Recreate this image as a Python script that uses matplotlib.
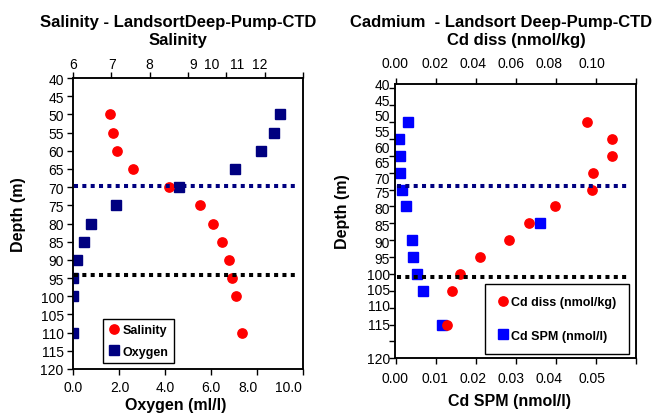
import matplotlib
matplotlib.use('Agg')
import matplotlib.pyplot as plt
from matplotlib.lines import Line2D

# ---------------- data ----------------
depth = [50, 55, 60, 65, 70, 75, 80, 85, 90, 95, 100, 110]
salinity = [6.97, 7.06, 7.16, 7.58, 8.51, 9.32, 9.66, 9.88, 10.06, 10.14, 10.24, 10.40]
oxygen = [8.97, 8.75, 8.15, 7.02, 4.59, 1.89, 0.81, 0.50, 0.17, 0.0, 0.03, 0.03]
cd_diss = [0.0955, 0.108, 0.108, 0.0985, 0.098, 0.0798, 0.0665, 0.0565, 0.0419, 0.0319, 0.0278, 0.0254]
cd_spm = [0.0031, 0.0008, 0.0010, 0.0011, 0.0015, 0.0026, 0.0360, 0.0039, 0.0043, 0.0052, 0.0068, 0.0114]

left_lines = [69.75, 94.1]    # navy, black
right_lines = [69.0, 95.9]

depth_ticks = list(range(40, 121, 5))
sal_ticks = [6, 7, 8, 9, 10, 11, 12]
sal_labels = ['6', '7', '8', '9', '10', '11', '12']
oxy_ticks = [0, 2, 4, 6, 8, 10]
oxy_labels = ['0.0', '2.0', '4.0', '6.0', '8.0', '10.0']
cdd_ticks = [0, 0.02, 0.04, 0.06, 0.08, 0.10, 0.12]
cdd_labels = ['0.00', '0.02', '0.04', '0.06', '0.08', '0.10']
cds_ticks = [0, 0.01, 0.02, 0.03, 0.04, 0.05, 0.06]
cds_labels = ['0.00', '0.01', '0.02', '0.03', '0.04', '0.05']
depth_labels = [str(v) for v in depth_ticks]

# label placement (layout, mimics the compressed label layout of the original)
sal_label_pos = [6.02, 7.02, 8.0, 9.13, 9.62, 10.27, 10.87]
oxy_label_pos = [0.0, 2.05, 4.02, 6.0, 7.6, 9.34]
cdd_label_pos = [-0.0005, 0.0194, 0.0384, 0.0578, 0.0768, 0.0982]
cds_label_pos = [-0.00025, 0.0097, 0.0192, 0.0289, 0.0384, 0.0491]
rdepth_label_pos = [38.7, 43.4, 47.8, 52.4, 57.3, 61.7, 66.3, 70.7, 75.4, 80.2,
                    85.3, 90.2, 95.0, 99.4, 104.1, 109.6, 119.8]

# ---------------- fonts ----------------
tick_family, tick_size = 'Liberation Sans', 10
bold_family = 'Liberation Sans'
plt.rcParams['font.family'] = [tick_family, 'DejaVu Sans']

RED = '#FF0000'
NAVY = '#000080'
BLUE = '#0000FF'

W, H = 655, 414
fig = plt.figure(figsize=(W / 100, H / 100), dpi=100)

def fx(px):
    return px / W

def fy(py):
    return 1 - py / H

axL = fig.add_axes([fx(72.7), fy(370), (303.3 - 72.7) / W, (370 - 79) / H])
axLt = axL.twiny()
axR = fig.add_axes([fx(395), fy(359.3), (635.7 - 395) / W, (359.3 - 85) / H])
axRt = axR.twiny()

for ax in (axL, axLt, axR, axRt):
    for s in ax.spines.values():
        s.set_linewidth(1.1)
        s.set_color('black')
    ax.xaxis.remove_overlapping_locs = False
    ax.yaxis.remove_overlapping_locs = False

def setup_x(ax, lim, ticks, labels, labelpos, pad):
    ax.set_xlim(*lim)
    ax.set_xticks(ticks)
    ax.set_xticklabels([''] * len(ticks))
    ax.set_xticks(labelpos, labels, minor=True)
    ax.tick_params(axis='x', which='major', direction='out', length=4, width=1.0, color='black')
    ax.tick_params(axis='x', which='minor', length=0, pad=pad, labelsize=tick_size, labelcolor='black')

# left plot
axL.set_ylim(120, 40)
axL.set_yticks(depth_ticks)
axL.set_yticklabels(depth_labels)
axL.tick_params(axis='y', which='major', direction='out', length=4, width=1.0, pad=2.5,
                labelsize=tick_size)
setup_x(axL, (0, 10), oxy_ticks, oxy_labels, oxy_label_pos, 8)
setup_x(axLt, (6, 12), sal_ticks, sal_labels, sal_label_pos, 5)

axL.plot(oxygen, depth, linestyle='none', marker='s', markersize=7, color=NAVY, zorder=3)
axLt.plot(salinity, depth, linestyle='none', marker='o', markersize=6.7, color=RED, zorder=2)
axLt.axhline(left_lines[0], xmin=0.006, xmax=0.97, color=NAVY, lw=2.9,
             dashes=(1, 1.07), dash_capstyle='butt', zorder=4)
axLt.axhline(left_lines[1], xmin=0.006, xmax=0.97, color='black', lw=2.9,
             dashes=(1, 1.07), dash_capstyle='butt', zorder=4)

# right plot
axR.set_ylim(120, 40)
axR.set_yticks(depth_ticks)
axR.set_yticklabels([''] * len(depth_ticks))
axR.set_yticks(rdepth_label_pos, depth_labels, minor=True)
axR.tick_params(axis='y', which='major', direction='out', length=4, width=1.0)
axR.tick_params(axis='y', which='minor', length=0, pad=3.6, labelsize=tick_size)
setup_x(axR, (0, 0.06), cds_ticks, cds_labels, cds_label_pos, 9.4)
setup_x(axRt, (0, 0.12), cdd_ticks, cdd_labels, cdd_label_pos, 10)

axR.plot(cd_spm, depth, linestyle='none', marker='s', markersize=7, color=BLUE, zorder=2)
axRt.plot(cd_diss, depth, linestyle='none', marker='o', markersize=6.7, color=RED, zorder=2)
axRt.axhline(right_lines[0], xmin=0.007, xmax=0.962, color=NAVY, lw=2.9,
             dashes=(1, 1.07), dash_capstyle='butt', zorder=4)
axRt.axhline(right_lines[1], xmin=0.007, xmax=0.962, color='black', lw=2.9,
             dashes=(1, 1.07), dash_capstyle='butt', zorder=4)

# legends
leg_prop = dict(family=bold_family, weight='bold', size=9)
hL = [Line2D([], [], linestyle='none', marker='o', markersize=6.7, color=RED),
      Line2D([], [], linestyle='none', marker='s', markersize=7, color=NAVY)]
legL = axLt.legend(hL, ['Salinity', 'Oxygen'], loc='upper left',
                   bbox_to_anchor=(fx(103), fy(320)), bbox_transform=fig.transFigure,
                   frameon=True, fancybox=False, edgecolor='black', framealpha=1,
                   borderaxespad=0, prop=leg_prop, handlelength=0.9, handletextpad=0.25,
                   borderpad=0.42, labelspacing=0.75)
legL.get_frame().set_linewidth(1.0)
legL.set_zorder(10)

hR = [Line2D([], [], linestyle='none', marker='o', markersize=6.7, color=RED),
      Line2D([], [], linestyle='none', marker='s', markersize=7, color=BLUE)]
legR = axRt.legend(hR, ['Cd diss (nmol/kg)', 'Cd SPM (nmol/l)'], loc='upper left',
                   bbox_to_anchor=(fx(485), fy(285)), bbox_transform=fig.transFigure,
                   frameon=True, fancybox=False, edgecolor='black', framealpha=1,
                   borderaxespad=0, prop=leg_prop, handlelength=0.9, handletextpad=0.2,
                   borderpad=1.0, labelspacing=1.7)
legR.get_frame().set_linewidth(1.0)
legR.set_zorder(10)

# titles and axis titles
tkw = dict(ha='center', va='center', fontsize=12, fontweight='bold', family=bold_family,
           color='black')
fig.text(fx(178), fy(22.7), 'Salinity - LandsortDeep-Pump-CTD', **tkw)
fig.text(fx(177.5), fy(41), 'Salinity', **tkw)
fig.text(fx(501), fy(22.7), 'Cadmium  - Landsort Deep-Pump-CTD', **tkw)
fig.text(fx(516), fy(41), 'Cd diss (nmol/kg)', **tkw)
akw = dict(tkw)
akw['fontsize'] = 11.5
fig.text(fx(19), fy(215), 'Depth (m)', rotation=90, **akw)
fig.text(fx(343), fy(212), 'Depth (m)', rotation=90, **akw)
fig.text(fx(176), fy(406), 'Oxygen (ml/l)', **akw)
fig.text(fx(510), fy(402), 'Cd SPM (nmol/l)', **akw)

fig.savefig('out.png', dpi=100, facecolor='white')
